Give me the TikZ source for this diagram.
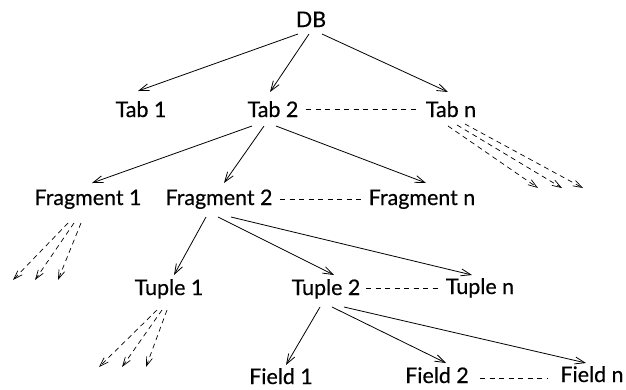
\documentclass[tikz,border=0pt]{standalone}
\usepackage{fontspec}
\setmainfont{Lato}
\newfontfamily\lblfont{Lato}[FakeBold=0.5]
\usetikzlibrary{arrows.meta}
\begin{document}
\begin{tikzpicture}[x=1bp,y=-1bp,
  lbl/.style={anchor=base,inner sep=0pt,font=\lblfont\fontsize{21.5}{26}\selectfont},
  arr/.style={draw,line width=0.8bp,-{Straight Barb[length=10bp,width=7bp,line width=0.8bp]}},
  dline/.style={draw,line width=0.8bp,dash pattern=on 5bp off 4.5bp},
  farr/.style={draw,line width=0.7bp,dash pattern=on 5bp off 4bp,-{Straight Barb[length=9bp,width=6bp,line width=0.7bp,sep=0pt]}}]
\useasboundingbox (0,0) rectangle (626,389);
% nodes
\node[lbl] (db) at (311,27) {DB};
\node[lbl] (tab1) at (141,117) {Tab 1};
\node[lbl] (tab2) at (273,117) {Tab 2};
\node[lbl] (tabn) at (451,117) {Tab n};
\node[lbl] (frag1) at (88,205) {Fragment 1};
\node[lbl] (frag2) at (219,205) {Fragment 2};
\node[lbl] (fragn) at (422,205) {Fragment n};
\node[lbl] (tup1) at (169,295) {Tuple 1};
\node[lbl] (tup2) at (326,295) {Tuple 2};
\node[lbl] (tupn) at (480,294) {Tuple n};
\node[lbl] (fld1) at (281,384) {Field 1};
\node[lbl] (fld2) at (437,383) {Field 2};
\node[lbl] (fldn) at (592,382) {Field n};
% free ends of the dashed fans
\coordinate (ta) at (538,188);
\coordinate (tb) at (562,188);
\coordinate (tc) at (583,188);
\coordinate (fa) at (13,280);
\coordinate (fb) at (35,280);
\coordinate (fc) at (58,280);
\coordinate (ua) at (99,367);
\coordinate (ub) at (122,367);
\coordinate (uc) at (146,367);
% solid arrows
\draw[arr] ([shift={(-13,7)}]db.base) -- ([shift={(-3,-26)}]tab1.base);
\draw[arr] ([shift={(-2,7)}]db.base) -- ([shift={(-3,-25)}]tab2.base);
\draw[arr] ([shift={(11,7)}]db.base) -- ([shift={(-3,-25)}]tabn.base);
\draw[arr] ([shift={(-21,9)}]tab2.base) -- ([shift={(4,-22)}]frag1.base);
\draw[arr] ([shift={(-9,9)}]tab2.base) -- ([shift={(5,-22)}]frag2.base);
\draw[arr] ([shift={(3,9)}]tab2.base) -- ([shift={(4,-22)}]fragn.base);
\draw[arr] ([shift={(-13,12)}]frag2.base) -- ([shift={(5,-20)}]tup1.base);
\draw[arr] ([shift={(-1,12)}]frag2.base) -- ([shift={(8,-20)}]tup2.base);
\draw[arr] ([shift={(12,12)}]frag2.base) -- ([shift={(-8,-19)}]tupn.base);
\draw[arr] ([shift={(-6,12)}]tup2.base) -- ([shift={(5,-19)}]fld1.base);
\draw[arr] ([shift={(6,12)}]tup2.base) -- ([shift={(9,-20)}]fld2.base);
\draw[arr] ([shift={(18,12)}]tup2.base) -- ([shift={(-6,-19)}]fldn.base);
% dashed siblings
\draw[dline] ([shift={(33,-8)}]tab2.base) -- ([shift={(-33,-8)}]tabn.base);
\draw[dline] ([shift={(61,-6)}]frag2.base) -- ([shift={(-60,-6)}]fragn.base);
\draw[dline] ([shift={(40,-7)}]tup2.base) -- ([shift={(-42,-6)}]tupn.base);
\draw[dline] ([shift={(43,-5)}]fld2.base) -- ([shift={(-44,-4)}]fldn.base);
% dashed fans
\draw[farr] ([shift={(-3,9)}]tabn.base) -- (ta);
\draw[farr] ([shift={(6,8)}]tabn.base) -- (tb);
\draw[farr] ([shift={(14,7)}]tabn.base) -- (tc);
\draw[farr] ([shift={(-20,18)}]frag1.base) -- (fa);
\draw[farr] ([shift={(-14,18)}]frag1.base) -- (fb);
\draw[farr] ([shift={(-7,18)}]frag1.base) -- (fc);
\draw[farr] ([shift={(-12,15)}]tup1.base) -- (ua);
\draw[farr] ([shift={(-7,15)}]tup1.base) -- (ub);
\draw[farr] ([shift={(-2,15)}]tup1.base) -- (uc);
\end{tikzpicture}
\end{document}
